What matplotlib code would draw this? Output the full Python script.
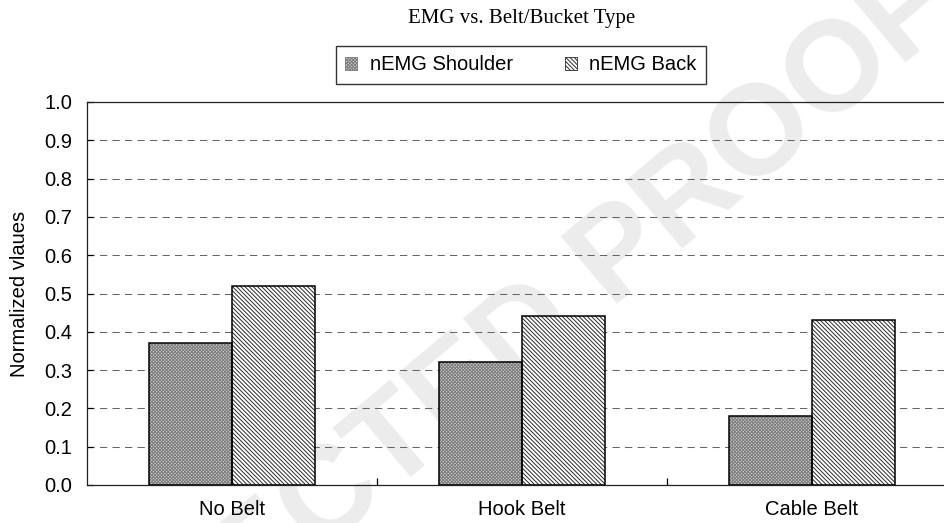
import numpy as np
import matplotlib
matplotlib.use("Agg")
import matplotlib.pyplot as plt
from matplotlib.patches import Patch

plt.rcParams['font.family'] = ['Liberation Sans', 'DejaVu Sans']
plt.rcParams['hatch.linewidth'] = 0.7

# data
groups = ['No Belt', 'Hook Belt', 'Cable Belt']
shoulder = [0.37, 0.32, 0.18]
back = [0.52, 0.44, 0.43]
series_names = ['nEMG Shoulder', 'nEMG Back']
yticks = [0.0, 0.1, 0.2, 0.3, 0.4, 0.5, 0.6, 0.7, 0.8, 0.9, 1.0]

fig = plt.figure(figsize=(9.45, 5.23), dpi=100)

# faint watermark behind the plot
fig.text(370 / 945, 55 / 523, 'UNCORRECTED PROOF', fontsize=92, fontweight='bold',
         color='#ececec', rotation=40, ha='center', va='center',
         rotation_mode='anchor', zorder=-5)

ax = fig.add_axes([87 / 945, 38 / 523, 870 / 945, 383 / 523])
ax.patch.set_alpha(0)

x = np.arange(len(groups))
w = 0.286

sh_hatch = 'xxxxxxxxxx'
bk_hatch = '\\' * 8
sh_face, sh_line = '#d2d2d2', '#7a7a7a'
bk_face, bk_line = 'white', '#2a2a2a'

# shoulder: fine grey checker, back: dense diagonal lines
ax.bar(x - w / 2, shoulder, w, color=sh_face, edgecolor=sh_line, hatch=sh_hatch, linewidth=0, zorder=2)
ax.bar(x + w / 2, back, w, color=bk_face, edgecolor=bk_line, hatch=bk_hatch, linewidth=0, zorder=2)
ax.bar(x - w / 2, shoulder, w, fill=False, edgecolor='black', linewidth=1.1, zorder=3)
ax.bar(x + w / 2, back, w, fill=False, edgecolor='black', linewidth=1.1, zorder=3)

ax.set_xlim(-0.5, 2.5)
ax.set_ylim(0, 1)
ax.set_yticks(yticks)
ax.set_yticklabels(['%.1f' % v for v in yticks])
ax.set_xticks(x)
ax.set_xticklabels(groups)
ax.set_xticks([0.5, 1.5], minor=True)
ax.tick_params(axis='x', which='major', length=0, pad=10.5, labelsize=14.5)
ax.tick_params(axis='x', which='minor', direction='in', length=5, width=0.9)
ax.tick_params(axis='y', direction='in', length=4, width=0.9, pad=10.5, labelsize=14.5)

ax.grid(axis='y', color='#666666', linestyle=(0, (7, 5)), linewidth=0.75)
ax.set_axisbelow(True)
ax.spines['right'].set_visible(False)
for s in ['left', 'bottom', 'top']:
    ax.spines[s].set_linewidth(0.9)
    ax.spines[s].set_color('#222222')

ax.set_ylabel('Normalized vlaues', fontsize=14.5, labelpad=11)

fig.text(522 / 945, 1 - 19 / 523, 'EMG vs. Belt/Bucket Type', family='Liberation Serif',
         fontsize=15, ha='center', va='center')

handles = [Patch(facecolor=sh_face, edgecolor=sh_line, hatch=sh_hatch, linewidth=0.6),
           Patch(facecolor=bk_face, edgecolor=bk_line, hatch=bk_hatch, linewidth=0.6)]
leg = fig.legend(handles, series_names, loc='center', bbox_to_anchor=(521 / 945, 1 - 65 / 523),
                 ncol=2, fontsize=14.5, frameon=True, fancybox=False, handlelength=0.6,
                 handleheight=0.6, handletextpad=0.6, columnspacing=2.6, borderpad=0.45,
                 borderaxespad=0)
leg.get_frame().set_edgecolor('black')
leg.get_frame().set_linewidth(1.0)

fig.savefig('out.png', dpi=100)
